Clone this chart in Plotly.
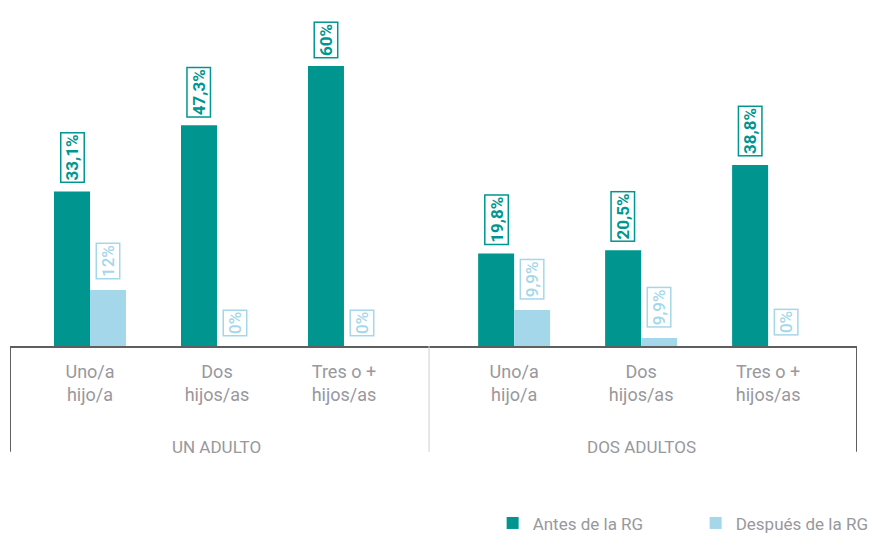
import plotly.graph_objects as go

groups = ["UN ADULTO", "DOS ADULTOS"]
categories = ["Uno/a<br>hijo/a", "Dos<br>hijos/as", "Tres o +<br>hijos/as"]
antes = [33.1, 47.3, 60.0, 19.8, 20.5, 38.8]
despues = [12.0, 0.0, 0.0, 7.7, 1.7, 0.0]
antes_labels = ["33,1%", "47,3%", "60%", "19,8%", "20,5%", "38,8%"]
despues_labels = ["12%", "0%", "0%", "9,9%", "9,9%", "0%"]
series_names = ["Antes de la RG", "Después de la RG"]

TEAL = "#009690"
LIGHT = "#A5D7EA"
GRAY_TXT = "#98989d"
FONT = "Roboto"

group_gap = 0.34
n_cat = len(categories)
xs = []
ticktext = []
for g in range(len(groups)):
    for i in range(n_cat):
        xs.append(g * (n_cat + group_gap) + i)
        ticktext.append(categories[i])

bargap = 0.433
half = (1 - bargap) / 4  # offset of each bar center from category center

fig = go.Figure()
fig.add_trace(go.Bar(x=xs, y=antes, name=series_names[0], marker=dict(color=TEAL, line=dict(width=0))))
fig.add_trace(go.Bar(x=xs, y=despues, name=series_names[1], marker=dict(color=LIGHT, line=dict(width=0))))

annotations = []
for x, v, t in zip(xs, antes, antes_labels):
    annotations.append(dict(x=x - half, y=v, xref="x", yref="y", text=t, textangle=-90,
                            showarrow=False, yanchor="bottom", yshift=8,
                            font=dict(family=FONT, size=17, color=TEAL, weight="bold"),
                            bordercolor=TEAL, borderwidth=1.5, borderpad=1, bgcolor="white"))
for x, v, t in zip(xs, despues, despues_labels):
    annotations.append(dict(x=x + half, y=v, xref="x", yref="y", text=t, textangle=-90,
                            showarrow=False, yanchor="bottom", yshift=10,
                            font=dict(family=FONT, size=17, color=LIGHT, weight=500),
                            bordercolor=LIGHT, borderwidth=1.5, borderpad=1, bgcolor="white"))

x_min = -0.63
x_max = (len(groups) - 1) * (n_cat + group_gap) + n_cat - 1 + 0.70
div_bottom = -0.315

for g, name in enumerate(groups):
    center = g * (n_cat + group_gap) + (n_cat - 1) / 2
    annotations.append(dict(x=center, y=div_bottom, xref="x", yref="paper", text=name,
                            showarrow=False, yanchor="bottom", yshift=-7,
                            font=dict(family=FONT, size=17, color=GRAY_TXT)))

shapes = []
for xv, col, w in [(x_min, "#5f5f5f", 2), (x_max, "#5f5f5f", 2),
                   ((n_cat - 1 + n_cat + group_gap) / 2, "#cfcfcf", 1)]:
    shapes.append(dict(type="line", xref="x", yref="paper", x0=xv, x1=xv, y0=0, y1=div_bottom,
                       line=dict(color=col, width=w)))

fig.update_layout(
    width=886, height=527,
    margin=dict(l=2, r=37, t=2, b=189),
    plot_bgcolor="white", paper_bgcolor="white",
    barmode="group", bargap=bargap, bargroupgap=0,
    showlegend=True,
    legend=dict(orientation="h", xref="container", yref="container", x=0.547, y=0.022,
                xanchor="left", yanchor="middle", entrywidth=158, entrywidthmode="pixels",
                font=dict(family=FONT, size=17, color=GRAY_TXT), itemclick=False),
    xaxis=dict(range=[x_min, x_max], tickmode="array", tickvals=xs, ticktext=ticktext,
               showgrid=False, zeroline=False, showline=True, linecolor="#5f5f5f", linewidth=2,
               ticks="", ticklabelstandoff=8, tickfont=dict(family=FONT, size=18, color=GRAY_TXT)),
    yaxis=dict(range=[0, 72], visible=False, showgrid=False),
    annotations=annotations, shapes=shapes,
)
fig.write_html("out.html")
